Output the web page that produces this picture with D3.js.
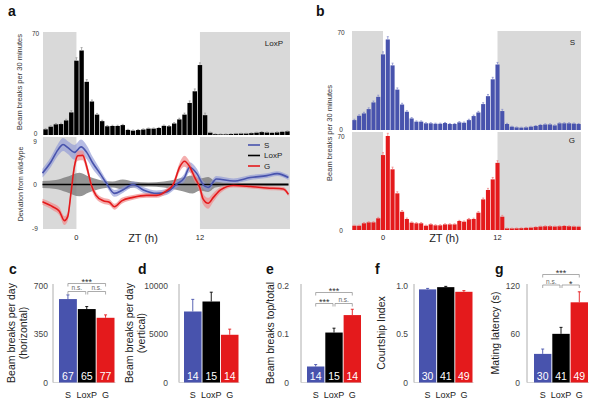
<!DOCTYPE html>
<html><head><meta charset="utf-8">
<script src="https://cdn.jsdelivr.net/npm/d3@7"></script>
<style>body{margin:0;background:#fff}svg{display:block}text{font-family:"Liberation Sans",Arial,Helvetica,sans-serif}</style>
</head><body><svg id="chart" width="601" height="400"></svg>
<script>
// ---------- DATA ----------
const binZT = [-3,-2.5,-2,-1.5,-1,-0.5,0,0.5,1,1.5,2,2.5,3,3.5,4,4.5,5,5.5,6,6.5,7,7.5,8,8.5,9,9.5,10,10.5,11,11.5,12,12.5,13,13.5,14,14.5,15,15.5,16,16.5,17,17.5,18,18.5,19,19.5,20,20.5];
const loxpBins = [3.9,5.7,7.3,7.5,10,15.5,51,58,36.5,23,14,9.5,6,6.2,6.2,6.8,3.5,3,3.4,3.8,4.4,4.4,4.8,6.3,6,7.9,10.7,14,22,30,48,13.6,1.6,0.6,0.5,0.5,0.7,0.9,1,1,1.3,1.6,2,1.7,1.5,1.8,2.2,2.5];
const loxpSem  = [0.5,0.6,0.6,0.6,0.8,1.2,2.0,2.0,1.5,1.0,0.8,0.6,0.5,0.5,0.5,0.5,0.4,0.4,0.4,0.4,0.4,0.4,0.4,0.5,0.5,0.6,0.8,1.0,1.4,1.6,1.5,1.4,0.4,0.2,0.2,0.2,0.2,0.2,0.2,0.2,0.2,0.3,0.3,0.3,0.3,0.3,0.3,0.3];
const sBins = [7.1,10.2,11.9,15,19.8,23.8,54.3,65,46.4,29,18.3,13.1,8.3,6,6,4.8,4.8,4.5,4.5,5,4.3,4.3,5.5,5.2,7.1,10,12.6,18.6,24.3,36.4,47,13.6,4.3,2.4,1.9,1.7,1.9,2.4,2.9,3.6,4,4,3.3,4.8,4.8,4.8,4.6,4.3];
const sSem  = [0.6,0.7,0.8,0.9,1.0,1.2,1.8,2.0,1.6,1.2,0.9,0.7,0.6,0.5,0.5,0.4,0.4,0.4,0.4,0.4,0.4,0.4,0.5,0.5,0.6,0.7,0.8,1.0,1.2,1.4,1.5,1.2,0.5,0.3,0.3,0.3,0.3,0.3,0.3,0.4,0.4,0.4,0.4,0.4,0.4,0.4,0.4,0.4];
const gBins = [3.2,3.2,5,5.7,5.7,8.7,55.8,70,45.2,27.3,13.6,8.2,5.5,5,5,3.2,4.2,3.5,3.5,4.2,4.2,4.2,6.7,6.2,8,8.2,12.9,22.8,29.8,37.7,50,9.9,1.2,1.2,1.3,1.4,1.6,1.8,2.2,2.6,2.8,2.8,2.6,2.8,3,2.8,2.6,2.5];
const gSem  = [0.4,0.4,0.5,0.5,0.5,0.7,1.8,2.0,1.6,1.2,0.9,0.7,0.5,0.5,0.5,0.4,0.4,0.4,0.4,0.4,0.4,0.4,0.5,0.5,0.6,0.6,0.8,1.0,1.2,1.4,1.6,1.0,0.2,0.2,0.2,0.2,0.2,0.2,0.2,0.3,0.3,0.3,0.3,0.3,0.3,0.3,0.3,0.3];

// deviation from wild-type (panel a bottom)
const sDevZT  = [-3.3,-2.5,-1.8,-1.3,-0.8,-0.2,0.45,1.0,1.6,2.3,2.9,3.7,4.5,5.5,6.5,7.8,8.75,9.7,10.5,11.0,11.7,12.3,12.8,13.6,15.25,16.9,18.5,19.5,20.6];
const sDevVal = [2.3,4.5,7,8.1,7.4,6.5,7.6,6.5,4.3,2.2,0.3,-1.8,-1.1,0,-1.1,-1.8,-1.5,0,1.4,3.5,2.2,0,-0.6,1.1,0.7,1.4,1.8,2.2,1.4];
const sDevSem = [0.9,1.0,1.2,1.3,1.3,1.5,1.5,1.4,1.2,0.9,0.7,0.7,0.6,0.6,0.6,0.6,0.6,0.7,0.8,1.0,1.0,0.8,0.7,0.6,0.5,0.5,0.5,0.5,0.5];
const gDevZT  = [-3.3,-2.3,-1.66,-1.17,-0.85,-0.52,-0.2,0.13,0.6,1.0,1.43,1.9,2.6,3.2,3.7,4.4,5.5,6.8,7.8,8.75,9.4,10.05,10.5,11,11.5,12,12.3,12.8,13.3,14,15.25,16.9,18.5,20.1,20.6];
const gDevVal = [-3.5,-4.5,-5.4,-7.3,-6.5,-1.5,3.6,5.8,5.9,3.6,0,-2.2,-3.3,-3.6,-4.5,-3.3,-2.6,-2.2,-2.2,-1.3,0,3.6,4.7,3.6,1.4,-0.7,-2.9,-3.8,-2.6,-1.1,-0.2,-0.4,-0.7,-0.9,-2.0];
const gDevSem = [0.6,0.7,0.8,0.9,0.9,1.0,1.0,1.0,1.0,0.9,0.8,0.7,0.6,0.6,0.6,0.6,0.5,0.5,0.5,0.5,0.6,0.9,1.1,1.0,0.9,1.0,1.1,1.1,0.9,0.6,0.4,0.4,0.4,0.4,0.4];
const loxpBandZT   = [-3.3,-2,-1,0.3,1.2,2.5,3.5,4.5,5.5,7,8.5,10,11.3,12,12.8,13.5,15,20.6];
const loxpBandHalf = [0.7,0.9,1.5,2.4,1.6,0.8,0.6,1.0,0.6,0.4,0.6,1.2,1.8,1.2,1.5,0.6,0.3,0.3];

// summary panels
const groups = ["S","LoxP","G"];
const cVals = [602,530,467],    cErr = [30,18,21],        cN = [67,65,77];
const dVals = [7320,8350,4920], dErr = [1250,960,580],    dN = [14,15,14];
const eVals = [0.033,0.103,0.139], eErr = [0.004,0.009,0.012], eN = [14,15,14];
const fVals = [0.96,0.983,0.935],  fErr = [0.01,0.008,0.012],  fN = [30,41,49];
const gVals = [35.4,60.2,99.2],  gErr = [6,8,13],          gN = [30,41,49];
const cTicks = [0,350,700], dTicks = [0,5000,10000], eTicks = [0,0.1,0.2], fTicks = [0,0.5,1.0], gTicks = [0,60,120];
const cSig = [["S","G","***"],["S","LoxP","n.s."],["LoxP","G","n.s."]];
const eSig = [["S","G","***"],["S","LoxP","***"],["LoxP","G","n.s."]];
const gSig = [["S","G","***"],["S","LoxP","n.s."],["LoxP","G","*"]];

// ---------- STYLE ----------
const BLUE = "#4853ad", RED = "#e41a1c", BLACK = "#000", SHADE = "#d9d9d9";
const grpColor = {S: BLUE, LoxP: BLACK, G: RED};
const svg = d3.select("#chart");

function txt(x, y, s, size, opts = {}) {
  const t = svg.append("text").attr("x", x).attr("y", y).text(s)
    .attr("font-size", size).attr("fill", opts.fill || "#222")
    .attr("text-anchor", opts.anchor || "start");
  if (opts.weight) t.attr("font-weight", opts.weight);
  if (opts.rotate) t.attr("transform", `rotate(-90,${x},${y})`);
  return t;
}

// ---------- timeline bar panels ----------
function timeline(cfg) {
  const x = d3.scaleLinear().domain([-3.25, 20.75]).range([cfg.x0, cfg.x1]);
  const y = d3.scaleLinear().domain([0, 70]).range([cfg.yBot, cfg.yTop]);
  const g = svg.append("g");
  g.append("rect").attr("x", x(-3.25)).attr("width", x(0) - x(-3.25))
    .attr("y", cfg.shadeTop).attr("height", cfg.yBot - cfg.shadeTop).attr("fill", SHADE);
  g.append("rect").attr("x", x(12)).attr("width", x(20.75) - x(12))
    .attr("y", cfg.shadeTop).attr("height", cfg.yBot - cfg.shadeTop).attr("fill", SHADE);
  const w = (x(0.5) - x(0)) * 0.86;
  g.selectAll(".bar").data(cfg.values).join("rect")
    .attr("x", (d, i) => x(binZT[i]) - w / 2).attr("width", w)
    .attr("y", d => y(d)).attr("height", d => cfg.yBot - y(d)).attr("fill", cfg.color);
  g.selectAll(".err").data(cfg.values).join("path")
    .attr("d", (d, i) => {
      const cx = x(binZT[i]), t = y(d + cfg.sem[i]);
      return `M${cx},${y(d)}V${t}M${cx - 1},${t}H${cx + 1}`;
    })
    .attr("stroke", cfg.errColor).attr("stroke-width", 0.8).attr("fill", "none");
  txt(cfg.tickX, y(70) + 2.5, "70", 6.5, {anchor: "middle", fill: "#333"});
  txt(cfg.tickX, y(0) + cfg.zeroDy, "0", 6.5, {anchor: "middle", fill: "#333"});
  txt(cfg.labelX, cfg.labelY, cfg.label, 8, {anchor: "end", fill: "#222"});
  return x;
}

// panel a top
const xa = timeline({x0: 43, x1: 290, yTop: 33, yBot: 135, shadeTop: 32, values: loxpBins, sem: loxpSem,
  color: BLACK, errColor: "#9a9a9a", tickX: 35.5, zeroDy: 1, label: "LoxP", labelX: 283, labelY: 46});
txt(22, 82, "Beam breaks per 30 minutes", 7.5, {anchor: "middle", rotate: true, fill: "#333"});

// panel b
const xb = timeline({x0: 352, x1: 581, yTop: 32.5, yBot: 130, shadeTop: 31, values: sBins, sem: sSem,
  color: BLUE, errColor: "#8b92cc", tickX: 341, zeroDy: 1.5, label: "S", labelX: 575, labelY: 45});
timeline({x0: 352, x1: 581, yTop: 136, yBot: 230, shadeTop: 132, values: gBins, sem: gSem,
  color: RED, errColor: "#ef8a8a", tickX: 341, zeroDy: 2.5, label: "G", labelX: 575, labelY: 143});
txt(332, 133, "Beam breaks per 30 minutes", 7.5, {anchor: "middle", rotate: true, fill: "#333"});

// panel a bottom (deviation)
(function () {
  const x = d3.scaleLinear().domain([-3.25, 20.75]).range([43, 290]);
  const y = d3.scaleLinear().domain([-9, 9]).range([229, 140]);
  const g = svg.append("g");
  g.append("rect").attr("x", x(-3.25)).attr("width", x(0) - x(-3.25)).attr("y", 137).attr("height", 92).attr("fill", SHADE);
  g.append("rect").attr("x", x(12)).attr("width", x(20.75) - x(12)).attr("y", 137).attr("height", 92).attr("fill", SHADE);
  const curve = d3.curveMonotoneX;
  const lb = loxpBandZT.map((t, i) => ({t, h: loxpBandHalf[i]}));
  g.append("path").datum(lb).attr("fill", "#7a7a7a").attr("opacity", 0.8)
    .attr("d", d3.area().curve(curve).x(d => x(d.t)).y0(d => y(-d.h)).y1(d => y(d.h)));
  const sd = sDevZT.map((t, i) => ({t, v: sDevVal[i], e: sDevSem[i]}));
  const gd = gDevZT.map((t, i) => ({t, v: gDevVal[i], e: gDevSem[i]}));
  g.append("path").datum(sd).attr("fill", "#8f98d6").attr("opacity", 0.65)
    .attr("d", d3.area().curve(curve).x(d => x(d.t)).y0(d => y(d.v - d.e)).y1(d => y(d.v + d.e)));
  g.append("path").datum(gd).attr("fill", "#f08c8c").attr("opacity", 0.7)
    .attr("d", d3.area().curve(curve).x(d => x(d.t)).y0(d => y(d.v - d.e)).y1(d => y(d.v + d.e)));
  g.append("path").datum(lb).attr("fill", "none").attr("stroke", BLACK).attr("stroke-width", 1.6)
    .attr("d", d3.line().curve(curve).x(d => x(d.t)).y(() => y(0)));
  g.append("path").datum(sd).attr("fill", "none").attr("stroke", BLUE).attr("stroke-width", 1.6)
    .attr("d", d3.line().curve(curve).x(d => x(d.t)).y(d => y(d.v)));
  g.append("path").datum(gd).attr("fill", "none").attr("stroke", RED).attr("stroke-width", 1.6)
    .attr("d", d3.line().curve(curve).x(d => x(d.t)).y(d => y(d.v)));
  txt(35, y(9) + 4, "9", 6.5, {anchor: "middle", fill: "#333"});
  txt(35, y(0) + 2.3, "0", 6.5, {anchor: "middle", fill: "#333"});
  txt(35, y(-9) + 2.3, "-9", 6.5, {anchor: "middle", fill: "#333"});
  txt(23, 184, "Deviation from wild-type", 7, {anchor: "middle", rotate: true, fill: "#333"});
  [["S", BLUE, 145], ["LoxP", BLACK, 155.5], ["G", RED, 166]].forEach(([n, c, ly]) => {
    g.append("line").attr("x1", 248).attr("x2", 260).attr("y1", ly).attr("y2", ly).attr("stroke", c).attr("stroke-width", 1.6);
    txt(264, ly + 2.8, n, 8, {fill: "#222"});
  });
})();

// x-axis labels for timelines
[[xa, 143], [xb, 444]].forEach(([x, cx]) => {
  [0, 12].forEach(v => txt(x(v), 240, String(v), 7.5, {anchor: "middle", fill: "#222"}));
  txt(cx, 242, "ZT (h)", 11, {anchor: "middle", fill: "#222"});
});

// panel letters
txt(8, 16, "a", 14, {weight: "bold", fill: "#111"});
txt(316, 16, "b", 14, {weight: "bold", fill: "#111"});

// ---------- summary bar panels ----------
function summary(cfg) {
  const x = d3.scaleBand().domain(groups).range([cfg.bx0, cfg.bx1]).paddingInner(0.05);
  const y = d3.scaleLinear().domain([0, cfg.max]).range([382.5, 285.5]);
  const g = svg.append("g");
  g.append("line").attr("x1", cfg.ax).attr("x2", cfg.ax).attr("y1", 382.5).attr("y2", 284).attr("stroke", "#999").attr("stroke-width", 0.8);
  g.append("line").attr("x1", cfg.ax).attr("x2", cfg.bx1 + 1).attr("y1", 382.5).attr("y2", 382.5).attr("stroke", "#bbb").attr("stroke-width", 0.6);
  cfg.ticks.forEach((v, i) => txt(cfg.tx, y(v) + 3, cfg.tickLabels[i], 8.5, {anchor: "end", fill: "#444"}));
  g.selectAll(".b").data(groups).join("rect")
    .attr("x", d => x(d)).attr("width", x.bandwidth())
    .attr("y", (d, i) => y(cfg.vals[i])).attr("height", (d, i) => 382.5 - y(cfg.vals[i]))
    .attr("fill", d => grpColor[d]);
  g.selectAll(".e").data(groups).join("path")
    .attr("d", (d, i) => {
      const cx = x(d) + x.bandwidth() / 2, t = y(cfg.vals[i] + cfg.err[i]);
      return `M${cx},${y(cfg.vals[i])}V${t}M${cx - 1.5},${t}H${cx + 1.5}`;
    })
    .attr("stroke", d => grpColor[d]).attr("stroke-width", 0.9).attr("fill", "none");
  groups.forEach((d, i) => {
    const cx = x(d) + x.bandwidth() / 2;
    txt(cx, 379.5, String(cfg.n[i]), 10.5, {anchor: "middle", fill: "#fff"});
    txt(cx, 398, d, 9, {anchor: "middle", fill: "#222"});
  });
  txt(cfg.lx, 333, cfg.label[0], 10.5, {anchor: "middle", rotate: true, fill: "#222"});
  if (cfg.label[1]) txt(cfg.lx + 11.5, 333, cfg.label[1], 10.5, {anchor: "middle", rotate: true, fill: "#222"});
  if (cfg.sig) {
    cfg.sig.forEach(([a, b, s], k) => {
      const ca = x(a) + x.bandwidth() / 2, cb = x(b) + x.bandwidth() / 2;
      const yy = k === 0 ? cfg.sigY[0] : cfg.sigY[1];
      const x1 = k === 0 ? ca : (a === "S" ? ca : ca + 1), x2 = k === 0 ? cb : (b === "LoxP" ? cb - 1 : cb);
      g.append("path").attr("d", `M${x1},${yy + 3}V${yy}H${x2}V${yy + 3}`)
        .attr("stroke", "#888").attr("stroke-width", 0.7).attr("fill", "none");
      const isNs = s === "n.s.";
      txt((x1 + x2) / 2, isNs ? yy - 1.2 : yy + 1.5, s, isNs ? 6.5 : 9, {anchor: "middle", fill: isNs ? "#666" : "#333"});
    });
  }
  svg.append("text").attr("x", cfg.px).attr("y", 274).text(cfg.letter)
    .attr("font-size", 14).attr("font-weight", "bold").attr("fill", "#111");
}

summary({letter: "c", px: 9, ax: 53, bx0: 59, bx1: 114.5, max: 700, ticks: cTicks, tickLabels: ["0","350","700"], tx: 48,
  vals: cVals, err: cErr, n: cN, lx: 15, label: ["Beam breaks per day", "(horizontal)"], sig: cSig, sigY: [283.5, 291.5]});
summary({letter: "d", px: 138, ax: 179, bx0: 184, bx1: 238.5, max: 10000, ticks: dTicks, tickLabels: ["0","5000","10000"], tx: 168,
  vals: dVals, err: dErr, n: dN, lx: 133, label: ["Beam breaks per day", "(vertical)"]});
summary({letter: "e", px: 266, ax: 301, bx0: 307, bx1: 361, max: 0.2, ticks: eTicks, tickLabels: ["0","0.1","0.2"], tx: 289,
  vals: eVals, err: eErr, n: eN, lx: 274, label: ["Beam breaks top/total"], sig: eSig, sigY: [292.5, 303.5]});
summary({letter: "f", px: 375, ax: 414, bx0: 419, bx1: 472.5, max: 1.0, ticks: fTicks, tickLabels: ["0","0.5","1.0"], tx: 408,
  vals: fVals, err: fErr, n: fN, lx: 385, label: ["Courtship Index"]});
summary({letter: "g", px: 495, ax: 527, bx0: 534, bx1: 588, max: 120, ticks: gTicks, tickLabels: ["0","60","120"], tx: 520,
  vals: gVals, err: gErr, n: gN, lx: 499, label: ["Mating latency (s)"], sig: gSig, sigY: [274.5, 285]});
</script>
</body></html>
